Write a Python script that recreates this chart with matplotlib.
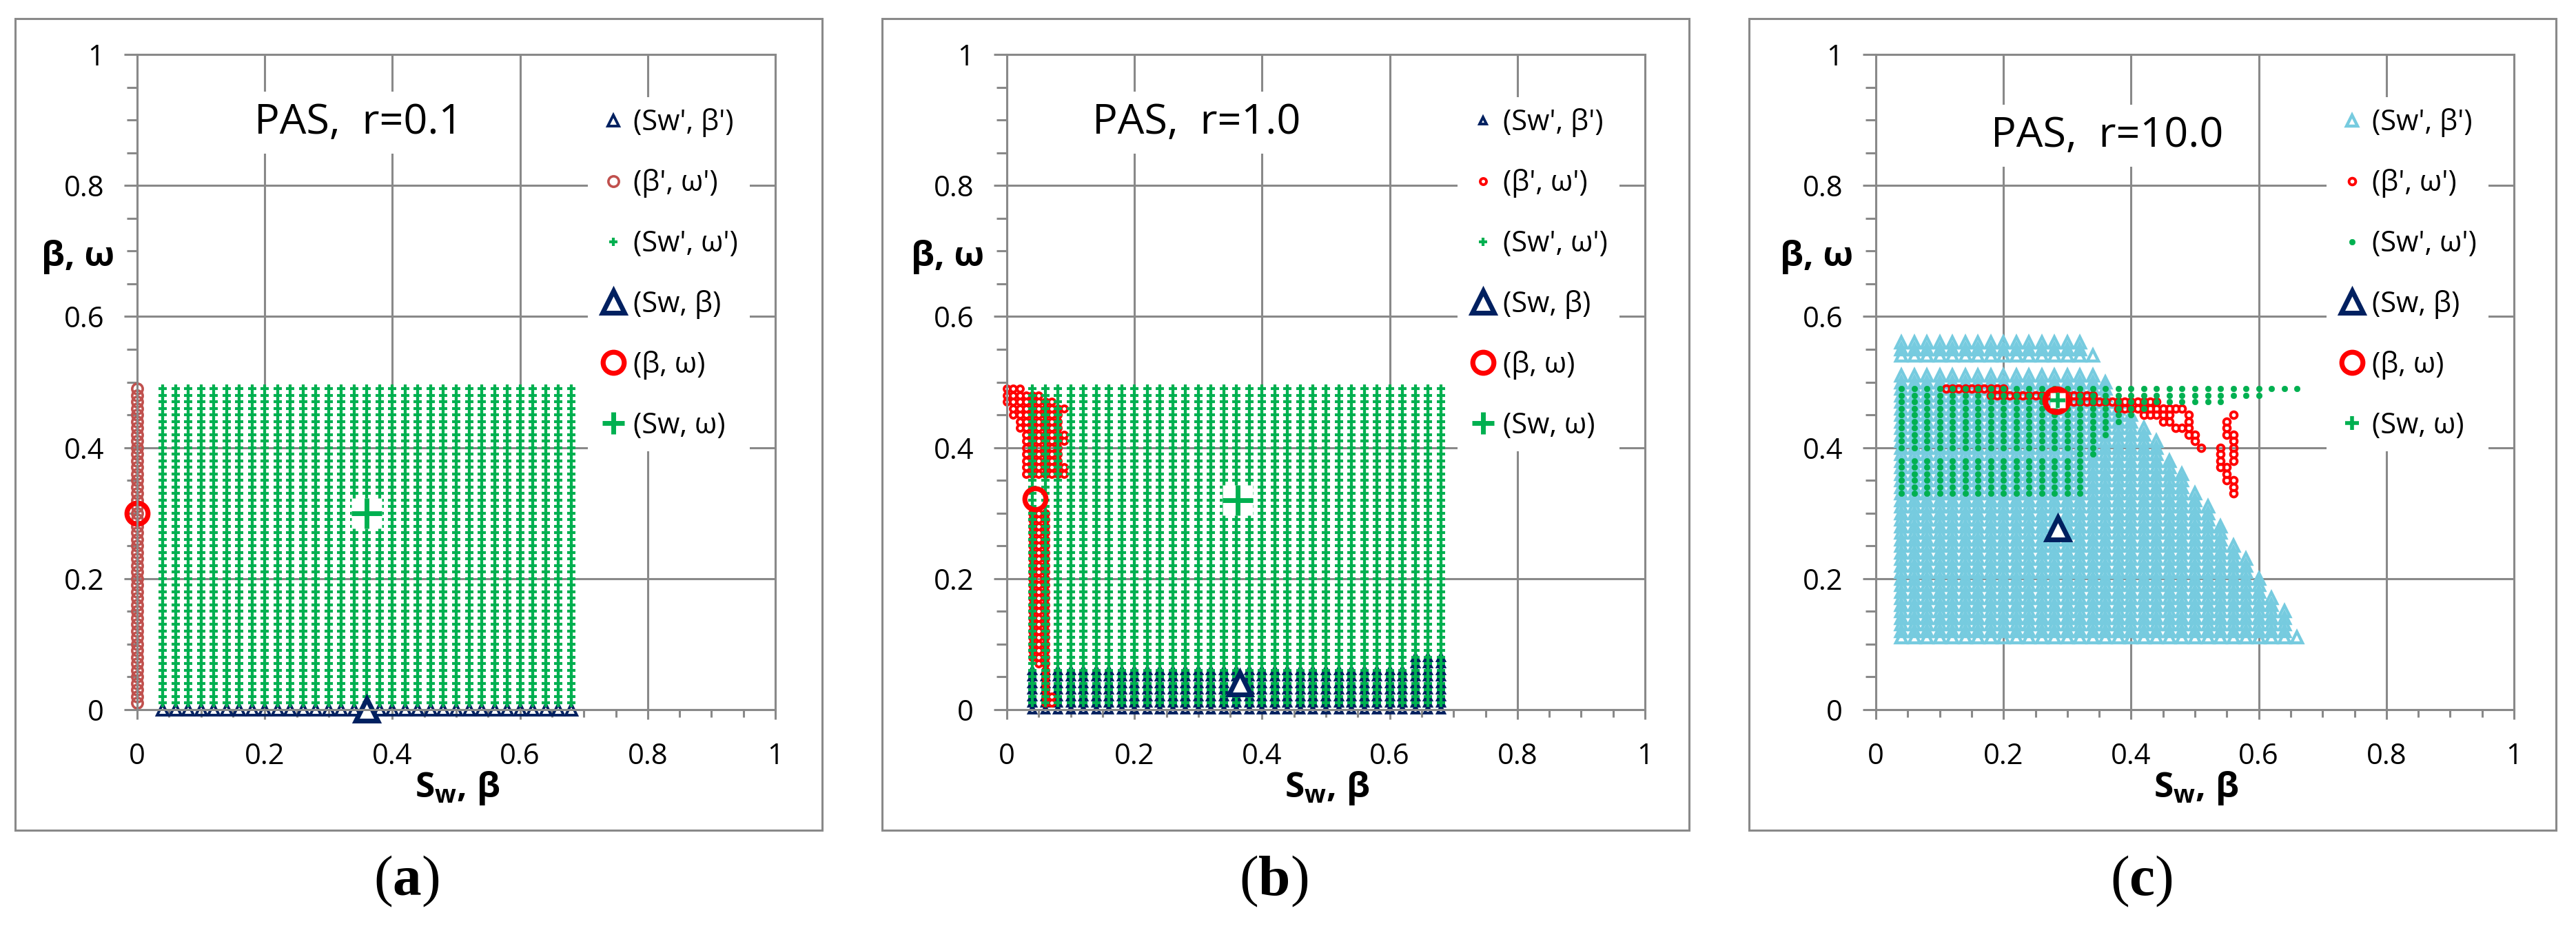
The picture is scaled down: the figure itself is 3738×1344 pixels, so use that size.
import matplotlib
matplotlib.use('Agg')
import matplotlib.pyplot as plt
from matplotlib.lines import Line2D
from matplotlib.patches import Rectangle
from matplotlib.ticker import MultipleLocator, FuncFormatter

plt.rcParams['font.family'] = ['Open Sans', 'DejaVu Sans']
plt.rcParams['mathtext.fontset'] = 'custom'
plt.rcParams['mathtext.rm'] = 'Liberation Serif'
plt.rcParams['mathtext.bf'] = 'Liberation Serif:bold'
plt.rcParams['mathtext.sf'] = 'Open Sans:bold'

# ------------------------------------------------------------------ data
GRID_STEP = 0.01

SW_AB = [0.04, 0.06, 0.08, 0.10, 0.12, 0.14, 0.16, 0.18, 0.20, 0.22, 0.24,
         0.26, 0.28, 0.30, 0.32, 0.34, 0.36, 0.38, 0.40, 0.42, 0.44, 0.46,
         0.48, 0.50, 0.52, 0.54, 0.56, 0.58, 0.60, 0.62, 0.64, 0.66, 0.68]

# panel (a)  r = 0.1   -- column segments (x, y_low, y_high)
A_SWB_X = SW_AB
A_SWB_LO = [0.00] * 33
A_SWB_HI = [0.00] * 33
A_BO_X = [0.00]
A_BO_LO = [0.01]
A_BO_HI = [0.49]
A_SWO_X = SW_AB
A_SWO_LO = [0.01] * 33
A_SWO_HI = [0.49] * 33
A_BIG_SW_BETA = (0.36, 0.00)
A_BIG_BETA_OMEGA = (0.00, 0.30)
A_BIG_SW_OMEGA = (0.36, 0.30)

# panel (b)  r = 1.0
B_SWB_X = SW_AB
B_SWB_LO = [0.00] * 33
B_SWB_HI = [0.06] * 30 + [0.08] * 3
B_BO_X = [0.00, 0.01, 0.02, 0.03, 0.04, 0.04, 0.05, 0.05, 0.06, 0.06,
          0.07, 0.07, 0.08, 0.09, 0.09, 0.09]
B_BO_LO = [0.47, 0.45, 0.43, 0.36, 0.36, 0.08, 0.36, 0.07, 0.36, 0.01,
           0.36, 0.01, 0.36, 0.46, 0.41, 0.36]
B_BO_HI = [0.49, 0.49, 0.49, 0.48, 0.48, 0.30, 0.48, 0.30, 0.47, 0.30,
           0.47, 0.02, 0.46, 0.46, 0.42, 0.37]
B_SWO_X = SW_AB
B_SWO_LO = [0.01] * 33
B_SWO_HI = [0.49] * 33
B_BIG_SW_BETA = (0.365, 0.04)
B_BIG_BETA_OMEGA = (0.044, 0.322)
B_BIG_SW_OMEGA = (0.362, 0.32)

# panel (c)  r = 10.0
C_SWB_X = [0.04, 0.06, 0.08, 0.10, 0.12, 0.14, 0.16, 0.18, 0.20, 0.22, 0.24,
           0.26, 0.28, 0.30, 0.32, 0.34, 0.36, 0.38, 0.40, 0.42, 0.44, 0.46,
           0.48, 0.50, 0.52, 0.54, 0.56, 0.58, 0.60, 0.62, 0.64, 0.66,
           0.04, 0.06, 0.08, 0.10, 0.12, 0.14, 0.16, 0.18, 0.20, 0.22, 0.24,
           0.26, 0.28, 0.30, 0.32, 0.34]
C_SWB_LO = [0.11] * 32 + [0.54] * 16
C_SWB_HI = ([0.51] * 16 + [0.50, 0.47, 0.45, 0.43, 0.41, 0.38, 0.36, 0.33,
            0.31, 0.28, 0.25, 0.23, 0.20, 0.17, 0.15, 0.11]
            + [0.56] * 15 + [0.54])
# (beta', omega') of panel (c) stored as row segments (omega, beta_low, beta_high)
C_BO_Y = [0.49, 0.48, 0.47, 0.46, 0.45, 0.45, 0.45, 0.44, 0.44, 0.44, 0.43,
          0.43, 0.42, 0.42, 0.41, 0.41, 0.40, 0.40, 0.40, 0.39, 0.39, 0.38,
          0.38, 0.37, 0.36, 0.35, 0.34, 0.33]
C_BO_LO = [0.11, 0.18, 0.30, 0.38, 0.42, 0.49, 0.56, 0.45, 0.49, 0.55, 0.47,
           0.55, 0.49, 0.55, 0.50, 0.56, 0.51, 0.54, 0.56, 0.54, 0.56, 0.54,
           0.56, 0.54, 0.55, 0.55, 0.56, 0.56]
C_BO_HI = [0.20, 0.34, 0.44, 0.48, 0.46, 0.49, 0.56, 0.46, 0.49, 0.55, 0.49,
           0.55, 0.50, 0.56, 0.50, 0.56, 0.51, 0.54, 0.56, 0.54, 0.56, 0.54,
           0.56, 0.55, 0.55, 0.56, 0.56, 0.56]
C_SWO_X = [0.04, 0.06, 0.08, 0.10, 0.12, 0.14, 0.16, 0.18, 0.20, 0.22, 0.24,
           0.26, 0.28, 0.30,
           0.04, 0.06, 0.08, 0.10, 0.12, 0.14, 0.16, 0.18, 0.20, 0.22, 0.24,
           0.26, 0.28, 0.30,
           0.32, 0.34, 0.36, 0.38, 0.40, 0.42, 0.44, 0.46, 0.48, 0.50, 0.52,
           0.54, 0.56, 0.58, 0.60, 0.62, 0.64, 0.66]
C_SWO_LO = ([0.40] * 14 + [0.33] * 14 +
            [0.33, 0.39, 0.42, 0.44, 0.45, 0.46, 0.47, 0.47, 0.47, 0.47, 0.47,
             0.47, 0.48, 0.48, 0.48, 0.49, 0.49, 0.49])
C_SWO_HI = [0.49] * 14 + [0.38] * 14 + [0.49] * 18
C_BIG_SW_BETA = (0.285, 0.277)
C_BIG_BETA_OMEGA = (0.283, 0.472)
C_BIG_SW_OMEGA = (0.285, 0.472)

TITLES = ['PAS,  r=0.1', 'PAS,  r=1.0', 'PAS,  r=10.0']
PANEL_LABELS = ['a', 'b', 'c']
LEGEND_LABELS = ["(Sw', β')", "(β', ω')", "(Sw', ω')", "(Sw, β)", "(β, ω)", "(Sw, ω)"]


def expand_cols(xs, los, his):
    px, py = [], []
    for x, lo, hi in zip(xs, los, his):
        n = int(round((hi - lo) / GRID_STEP)) + 1
        for k in range(n):
            px.append(x)
            py.append(round(lo + k * GRID_STEP, 4))
    return px, py


def expand_rows(ys, los, his):
    py, px = expand_cols(ys, los, his)
    return px, py


# ------------------------------------------------------------------ layout / style
W, H = 3738, 1344
GRAY = '#898989'
NAVY = '#002060'
GREEN = '#00B050'
RED = '#FF0000'
BRICK = '#C0504D'
AQUA = '#76CBDF'

AX_X0 = [199, 1461, 2722]
AX_W = 926
AX_TOP, AX_BOT = 79, 1030
FRAME_L = [21.7, 1280, 2538]
FRAME_W = 1171
FRAME_T, FRAME_B = 26.7, 1205
LABEL_X = [590, 1848, 3107]
LABEL_Y = 1278
TITLE_POS = [(0.347, 0.896), (0.2975, 0.896), (0.362, 0.876)]

fig = plt.figure(figsize=(W / 100, H / 100), dpi=100)

small_tri = [dict(marker='^', ms=11, mfc='none', mec=NAVY, mew=2.8),
             dict(marker='^', ms=7, mfc='none', mec=NAVY, mew=2.8),
             dict(marker='^', ms=11, mfc='none', mec=AQUA, mew=3.2)]
small_circ = [dict(marker='o', ms=11, mfc='none', mec=BRICK, mew=2.6),
              dict(marker='o', ms=6.5, mfc='none', mec=RED, mew=2.8),
              dict(marker='o', ms=7, mfc='none', mec=RED, mew=2.8)]
small_green = [dict(marker='+', ms=8, mec=GREEN, mew=3.0),
               dict(marker='+', ms=8, mec=GREEN, mew=3.0),
               dict(marker='o', ms=6, mfc=GREEN, mec=GREEN, mew=0.5)]
big_tri = dict(marker='^', ms=23, mfc='white', mec=NAVY, mew=5)
big_circ = [dict(marker='o', ms=22, mfc='none', mec=RED, mew=5.2),
            dict(marker='o', ms=22, mfc='none', mec=RED, mew=5.2),
            dict(marker='o', ms=24, mfc='none', mec=RED, mew=6)]
plus_size = [31, 31, 16]
plus_mew = [5, 5, 4]

series = [
    (expand_cols(A_SWB_X, A_SWB_LO, A_SWB_HI), expand_cols(A_BO_X, A_BO_LO, A_BO_HI),
     expand_cols(A_SWO_X, A_SWO_LO, A_SWO_HI), A_BIG_SW_BETA, A_BIG_BETA_OMEGA, A_BIG_SW_OMEGA),
    (expand_cols(B_SWB_X, B_SWB_LO, B_SWB_HI), expand_cols(B_BO_X, B_BO_LO, B_BO_HI),
     expand_cols(B_SWO_X, B_SWO_LO, B_SWO_HI), B_BIG_SW_BETA, B_BIG_BETA_OMEGA, B_BIG_SW_OMEGA),
    (expand_cols(C_SWB_X, C_SWB_LO, C_SWB_HI), expand_rows(C_BO_Y, C_BO_LO, C_BO_HI),
     expand_cols(C_SWO_X, C_SWO_LO, C_SWO_HI), C_BIG_SW_BETA, C_BIG_BETA_OMEGA, C_BIG_SW_OMEGA),
]

for i in range(3):
    # outer chart frame
    fig.add_artist(Rectangle((FRAME_L[i] / W, 1 - FRAME_B / H), FRAME_W / W,
                             (FRAME_B - FRAME_T) / H, transform=fig.transFigure,
                             fill=False, ec=GRAY, lw=2.2))
    ax = fig.add_axes([AX_X0[i] / W, 1 - AX_BOT / H, AX_W / W, (AX_BOT - AX_TOP) / H])
    ax.set_xlim(0, 1)
    ax.set_ylim(0, 1)
    ax.set_axisbelow(True)
    ax.grid(True, which='major', color=GRAY, lw=2.2)
    for sp in ax.spines.values():
        sp.set_color(GRAY)
        sp.set_linewidth(2.2)
    ax.xaxis.set_major_locator(MultipleLocator(0.2))
    ax.yaxis.set_major_locator(MultipleLocator(0.2))
    ax.xaxis.set_minor_locator(MultipleLocator(0.05))
    ax.yaxis.set_minor_locator(MultipleLocator(0.05))
    fmt = FuncFormatter(lambda v, _: '%g' % round(v, 2))
    ax.xaxis.set_major_formatter(fmt)
    ax.yaxis.set_major_formatter(fmt)
    ax.tick_params(axis='x', which='major', length=10, width=2.2, color=GRAY,
                   direction='out', pad=24, labelsize=30)
    ax.tick_params(axis='x', which='minor', length=8, width=2.2, color=GRAY, direction='out')
    ax.tick_params(axis='y', which='major', length=13.5, width=2.2, color=GRAY,
                   direction='out', pad=21, labelsize=30)
    ax.tick_params(axis='y', which='minor', length=10.5, width=2.2, color=GRAY, direction='out')

    (tx, ty), (rx, ry), (gx, gy), bt, bc, bp = series[i]
    ax.plot(tx, ty, ls='none', clip_on=False, **small_tri[i])
    ax.plot(rx, ry, ls='none', clip_on=False, **small_circ[i])
    ax.plot(gx, gy, ls='none', clip_on=False, **small_green[i])
    ax.plot([bt[0]], [bt[1]], ls='none', clip_on=False, **big_tri)
    ax.plot([bc[0]], [bc[1]], ls='none', clip_on=False, **big_circ[i])
    ax.plot([bp[0]], [bp[1]], ls='none', clip_on=False, marker='s', ms=plus_size[i],
            mfc='white', mec='none')
    ax.plot([bp[0]], [bp[1]], ls='none', clip_on=False, marker='+', ms=plus_size[i],
            mec=GREEN, mew=plus_mew[i])

    handles = [Line2D([], [], ls='none', **small_tri[i]),
               Line2D([], [], ls='none', **small_circ[i]),
               Line2D([], [], ls='none', **small_green[i]),
               Line2D([], [], ls='none', **big_tri),
               Line2D([], [], ls='none', **big_circ[0]),
               Line2D([], [], ls='none', marker='+', ms=[23, 23, 15][i], mec=GREEN,
                      mew=[5, 5, 4][i])]
    ax.legend(handles, LEGEND_LABELS, loc='upper left', bbox_to_anchor=(0.706, 0.935),
              borderaxespad=0, frameon=True, fancybox=False, edgecolor='none',
              facecolor='white', framealpha=1, fontsize=30, handlelength=1.0,
              handletextpad=0.2, labelspacing=1.1, borderpad=0.4)

    ax.text(TITLE_POS[i][0], TITLE_POS[i][1], TITLES[i], transform=ax.transAxes,
            ha='center', va='center', fontsize=44,
            bbox=dict(boxstyle='square,pad=0.25', fc='white', ec='none'))
    ax.text(-0.093, 0.691, 'β, ω', transform=ax.transAxes, ha='center', va='center',
            fontsize=37, fontweight='bold')
    ax.text(0.502, -0.12, r'$\mathsf{S}_\mathsf{w}$, β', transform=ax.transAxes,
            ha='center', va='center', fontsize=37, fontweight='bold')
    fig.text(LABEL_X[i] / W, 1 - LABEL_Y / H,
             r'$\mathrm{(}\mathbf{' + PANEL_LABELS[i] + r'}\mathrm{)}$',
             ha='center', va='center', fontsize=60)

fig.savefig('out.png', dpi=100, facecolor='white')
